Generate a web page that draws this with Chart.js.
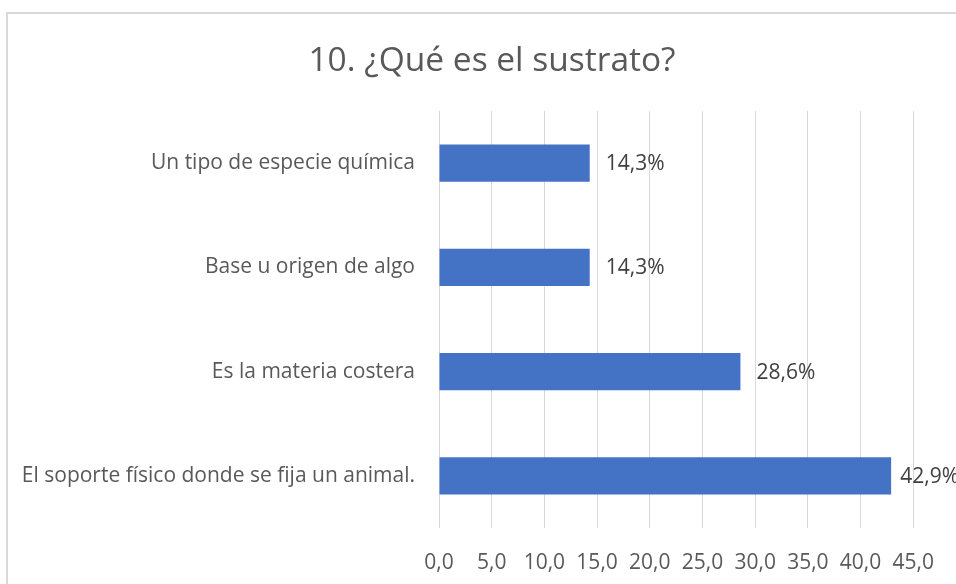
<!DOCTYPE html>
<html>
<head>
<meta charset="utf-8">
<script src="https://cdn.jsdelivr.net/npm/chart.js@4"></script>
<style>
  html, body { margin: 0; padding: 0; background: #fff; }
  #wrap { width: 956px; height: 584px; position: relative; }
</style>
</head>
<body>
<div id="wrap"><canvas id="c" width="956" height="584"></canvas></div>
<script>
const chartTitle = "10. ¿Qué es el sustrato?";
const categories = [
  "Un tipo de especie química",
  "Base u origen de algo",
  "Es la materia costera",
  "El soporte físico donde se fija un animal."
];
const percentValues = [14.3, 14.3, 28.6, 42.9];
const axisMin = 0;
const axisMax = 45;
const axisStep = 5;

const FONT = "'Open Sans', sans-serif";
const fmt1 = v => Number(v).toFixed(1).replace('.', ',');

const frameAndTitle = {
  id: 'frameAndTitle',
  beforeDraw(chart) {
    const ctx = chart.ctx;
    ctx.save();
    ctx.fillStyle = '#ffffff';
    ctx.fillRect(0, 0, chart.width, chart.height);
    ctx.strokeStyle = '#d9d9d9';
    ctx.lineWidth = 2;
    ctx.strokeRect(7, 13, 1400, 1400);
    ctx.fillStyle = '#595959';
    ctx.font = "33.5px " + FONT;
    ctx.textAlign = 'center';
    ctx.textBaseline = 'alphabetic';
    ctx.fillText(chartTitle, 492, 71);
    ctx.restore();
  }
};

const barLabels = {
  id: 'barLabels',
  afterDatasetsDraw(chart) {
    const ctx = chart.ctx;
    const meta = chart.getDatasetMeta(0);
    ctx.save();
    ctx.font = "21px " + FONT;
    ctx.fillStyle = '#404040';
    ctx.textAlign = 'left';
    ctx.textBaseline = 'middle';
    meta.data.forEach((bar, i) => {
      const txt = fmt1(chart.data.datasets[0].data[i]) + '%';
      const w = ctx.measureText(txt).width;
      let x = bar.x + 16;
      if (x + w > chart.width + 3) x = chart.width + 3 - w;
      ctx.fillText(txt, x, bar.y + 1);
    });
    ctx.restore();
  }
};

new Chart(document.getElementById('c'), {
  type: 'bar',
  data: {
    labels: categories,
    datasets: [{
      data: percentValues,
      backgroundColor: '#4472C4',
      borderWidth: 0,
      categoryPercentage: 1,
      barPercentage: 0.355
    }]
  },
  options: {
    indexAxis: 'y',
    responsive: false,
    animation: false,
    devicePixelRatio: 1,
    layout: { padding: { top: 111, right: 37, bottom: 0, left: 0 } },
    plugins: {
      legend: { display: false },
      title: { display: false },
      tooltip: { enabled: false }
    },
    scales: {
      x: {
        min: axisMin,
        max: axisMax,
        ticks: {
          stepSize: axisStep,
          color: '#595959',
          font: { family: FONT, size: 21 },
          padding: 22,
          maxRotation: 0,
          autoSkip: false,
          callback: v => fmt1(v)
        },
        grid: { color: '#d9d9d9', lineWidth: 1, drawTicks: false },
        border: { display: false },
        afterFit: s => { s.height = 56; }
      },
      y: {
        ticks: {
          color: '#595959',
          font: { family: FONT, size: 21 },
          padding: 24,
          autoSkip: false
        },
        grid: { display: false, drawTicks: false },
        border: { display: false },
        afterFit: s => { s.width = 439; }
      }
    }
  },
  plugins: [frameAndTitle, barLabels]
});
</script>
</body>
</html>
